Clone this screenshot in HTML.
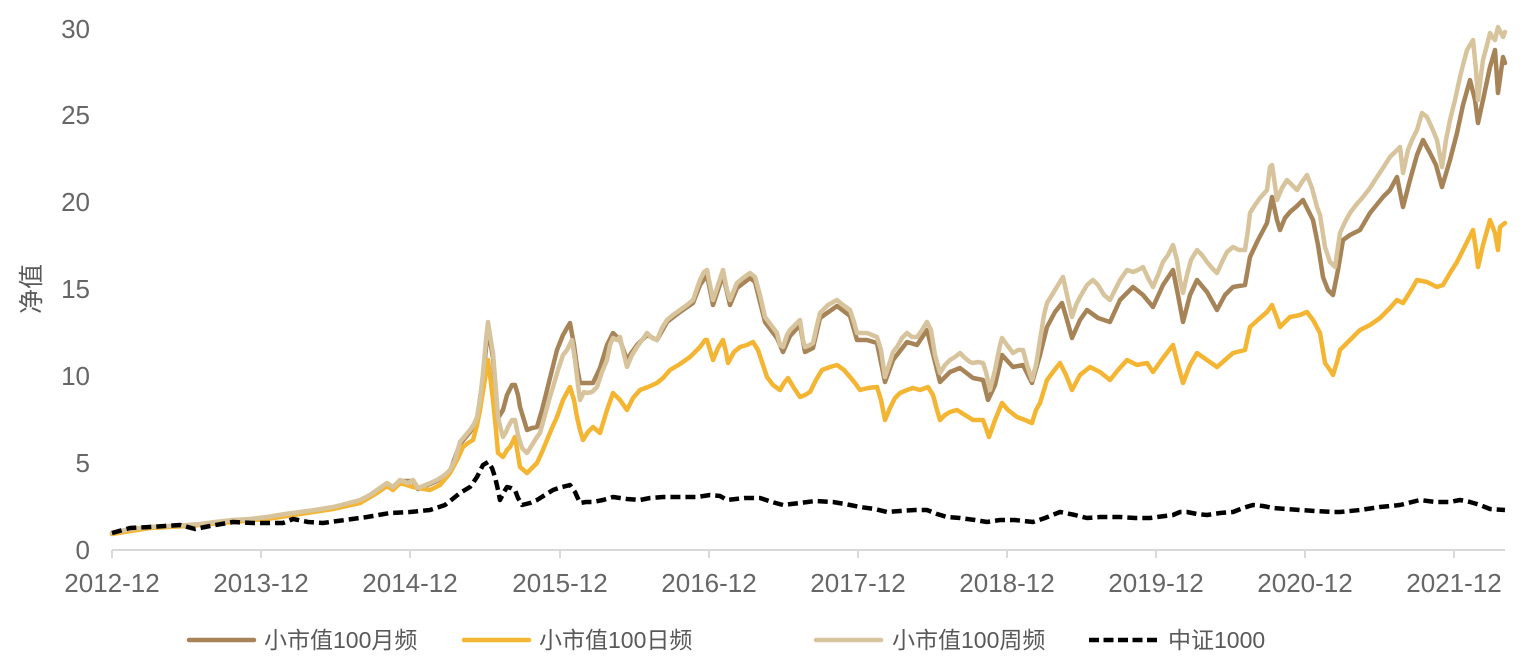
<!DOCTYPE html>
<html><head><meta charset="utf-8">
<style>
html,body{margin:0;padding:0;background:#fff;}
svg{display:block;}
text{font-family:"Liberation Sans","Noto Sans CJK SC",sans-serif;}
</style></head>
<body>
<svg width="1527" height="666" viewBox="0 0 1527 666" xmlns="http://www.w3.org/2000/svg">
<rect width="1527" height="666" fill="#fff"/>
<!-- y tick labels -->
<g fill="#666" font-size="26" text-anchor="end">
<text x="90" y="559">0</text>
<text x="90" y="472">5</text>
<text x="90" y="385">10</text>
<text x="90" y="298">15</text>
<text x="90" y="211">20</text>
<text x="90" y="124">25</text>
<text x="90" y="38">30</text>
</g>
<text transform="translate(40,289) rotate(-90)" fill="#595959" font-size="25" text-anchor="middle">净值</text>
<!-- x axis -->
<line x1="112" y1="550" x2="1505" y2="550" stroke="#d9d9d9" stroke-width="2"/>
<g stroke="#d9d9d9" stroke-width="2">
<line x1="112" y1="550" x2="112" y2="558"/>
<line x1="261" y1="550" x2="261" y2="558"/>
<line x1="410" y1="550" x2="410" y2="558"/>
<line x1="560" y1="550" x2="560" y2="558"/>
<line x1="709" y1="550" x2="709" y2="558"/>
<line x1="858" y1="550" x2="858" y2="558"/>
<line x1="1007" y1="550" x2="1007" y2="558"/>
<line x1="1156" y1="550" x2="1156" y2="558"/>
<line x1="1305" y1="550" x2="1305" y2="558"/>
<line x1="1454" y1="550" x2="1454" y2="558"/>
</g>
<g fill="#666" font-size="26" text-anchor="middle">
<text x="112" y="592">2012-12</text>
<text x="261" y="592">2013-12</text>
<text x="410" y="592">2014-12</text>
<text x="560" y="592">2015-12</text>
<text x="709" y="592">2016-12</text>
<text x="858" y="592">2017-12</text>
<text x="1007" y="592">2018-12</text>
<text x="1156" y="592">2019-12</text>
<text x="1305" y="592">2020-12</text>
<text x="1454" y="592">2021-12</text>
</g>
<g fill="none" stroke-width="4.5" stroke-linejoin="round" stroke-linecap="round">
<!-- brown 月频 -->
<polyline stroke="#A78458" points="112,533 150,527 187,526 233,521 267,518 300,513 333,508 360,501 377,491 387,484 393,488 400,481 413,481 418,489 437,481 450,471 460,444 470,432 477,420 483,378 488,328 493,358 498,418 503,410 507,395 512,385 515,385 518,395 520,407 524,420 527,430 532,428 537,427 542,410 547,390 552,370 557,350 563,335 567,328 570,323 574,345 577,367 580,383 586,383 593,383 600,368 607,345 613,333 620,340 627,360 632,352 637,345 647,335 657,340 667,322 680,312 693,303 700,285 707,275 713,305 723,275 730,305 737,288 750,278 755,282 765,322 777,338 783,352 790,336 800,325 805,352 813,348 820,318 837,306 850,316 857,340 867,340 877,343 885,382 893,360 907,342 917,345 927,330 940,382 950,372 960,368 973,378 983,380 988,400 995,385 1002,355 1013,367 1023,365 1032,383 1040,355 1047,327 1055,312 1062,303 1067,320 1072,338 1080,320 1087,310 1098,318 1110,322 1120,300 1133,287 1143,295 1153,307 1163,285 1173,270 1178,295 1183,322 1190,295 1197,280 1207,292 1217,310 1225,295 1233,287 1245,285 1250,257 1258,240 1267,223 1272,197 1277,220 1280,230 1285,218 1290,212 1297,206 1303,200 1308,210 1313,220 1318,245 1323,277 1328,290 1333,295 1338,270 1343,240 1350,235 1360,230 1370,213 1383,197 1390,190 1397,177 1403,207 1410,180 1417,155 1423,140 1430,153 1436,165 1442,187 1450,160 1457,133 1463,105 1470,80 1475,100 1478,123 1483,100 1490,67 1495,50 1498,93 1503,57 1505,63"/>
<!-- orange 日频 -->
<polyline stroke="#F4B533" points="112,534 150,528 187,526 233,522 267,519 300,514 333,509 360,503 377,493 387,486 393,490 400,483 413,487 430,490 440,485 450,473 457,460 463,447 468,443 473,440 477,425 480,410 484,385 488,360 490,375 493,400 496,430 498,453 503,457 507,450 510,447 515,437 518,455 520,467 527,473 532,468 537,463 542,452 547,440 552,428 557,417 563,400 570,387 574,400 577,417 580,430 583,440 588,432 593,427 600,433 607,410 613,393 620,400 627,410 633,398 640,390 648,387 657,383 663,378 670,370 680,364 690,357 697,350 700,347 705,340 707,340 710,350 713,360 718,348 723,340 726,352 728,363 734,352 740,347 747,345 753,342 758,350 762,362 767,377 773,385 780,390 784,383 788,378 794,388 800,397 805,395 810,392 816,380 822,370 830,367 837,365 844,370 850,377 855,383 860,390 868,388 877,387 881,400 885,420 890,408 895,398 900,393 907,390 913,388 920,390 928,387 933,395 937,410 940,420 945,415 950,412 957,410 965,415 973,420 978,420 983,420 986,428 989,437 995,420 1002,403 1008,410 1017,417 1025,420 1032,423 1036,410 1040,403 1044,390 1047,380 1053,372 1060,363 1066,375 1072,390 1080,375 1090,367 1100,372 1110,380 1118,370 1127,360 1137,365 1147,363 1153,372 1163,358 1173,345 1178,365 1183,383 1190,365 1197,353 1207,360 1217,367 1225,360 1233,353 1245,350 1250,327 1260,318 1267,312 1272,305 1277,318 1280,327 1285,322 1290,317 1300,315 1307,312 1313,320 1320,333 1325,363 1330,370 1333,375 1337,362 1340,350 1350,340 1360,330 1370,325 1380,318 1390,308 1397,300 1403,303 1410,292 1417,280 1427,282 1437,287 1443,285 1450,273 1457,262 1463,250 1468,240 1473,230 1476,250 1478,267 1483,245 1490,220 1495,233 1498,250 1500,227 1505,223"/>
<!-- tan 周频 -->
<polyline stroke="#D8C49C" points="112,533 130,529 150,527 170,526 187,525 200,524 215,522 233,520 250,519 267,517 285,514 300,512 315,510 333,507 345,504 360,500 370,495 377,490 387,483 393,487 400,480 408,483 413,480 418,488 428,484 437,480 445,475 450,470 455,460 460,442 465,436 470,430 474,424 477,417 480,400 483,373 486,340 488,322 490,335 493,353 496,390 498,417 501,430 503,437 506,432 508,427 512,420 515,420 518,435 522,448 527,453 532,445 537,437 540,433 545,415 549,400 553,387 558,370 563,355 567,350 572,340 575,360 578,385 580,400 584,392 587,393 592,392 597,387 602,372 607,360 610,345 613,338 617,340 620,337 624,355 627,367 632,355 637,347 642,340 647,333 652,338 657,340 662,328 667,320 673,315 680,310 687,305 693,300 700,280 704,272 707,270 710,285 713,300 718,285 723,270 727,290 730,300 734,290 737,283 743,278 750,273 755,277 760,295 765,317 771,325 777,333 780,345 783,347 787,335 790,330 795,325 800,320 803,340 805,347 810,345 813,343 817,325 820,313 828,305 837,300 843,305 850,310 854,322 857,333 862,333 867,333 872,335 877,337 881,350 885,377 889,365 893,352 897,347 902,338 907,333 912,337 917,337 922,330 927,322 931,330 935,355 940,373 945,365 950,360 955,357 960,353 965,358 970,362 973,363 978,362 983,363 986,372 990,390 995,370 1000,345 1002,338 1007,345 1013,353 1018,350 1023,350 1027,365 1032,380 1036,365 1040,340 1044,315 1047,303 1052,295 1058,285 1063,277 1067,295 1072,317 1076,305 1080,297 1087,285 1093,280 1098,285 1104,295 1110,300 1115,290 1120,280 1127,270 1133,272 1138,270 1143,267 1148,278 1153,287 1158,275 1163,262 1168,255 1173,245 1177,260 1180,280 1183,293 1187,275 1191,260 1197,250 1202,255 1207,262 1212,268 1217,273 1222,262 1227,252 1233,247 1239,250 1245,250 1248,230 1250,213 1255,205 1260,198 1267,190 1270,167 1272,165 1275,185 1277,200 1282,188 1287,180 1292,185 1297,190 1302,182 1307,175 1312,188 1317,207 1320,215 1325,247 1330,262 1335,267 1340,233 1345,222 1350,213 1356,205 1363,197 1370,188 1377,177 1383,168 1390,157 1395,152 1400,147 1403,173 1408,150 1412,140 1417,130 1422,113 1427,117 1432,128 1437,140 1442,167 1446,140 1450,120 1455,100 1460,77 1463,65 1467,50 1470,45 1473,40 1476,70 1478,100 1481,75 1483,60 1487,45 1490,33 1493,38 1495,40 1498,27 1501,33 1503,37 1505,32"/>
</g>
<!-- black 中证1000 -->
<polyline fill="none" stroke="#000" stroke-width="4.5" stroke-dasharray="10 5" stroke-linejoin="round" points="112,533 130,528 150,527 165,526 180,525 195,529 210,526 233,522 253,523 270,523 283,523 293,519 308,522 323,523 345,520 367,517 390,513 410,512 430,510 445,505 460,493 470,487 477,477 483,465 488,462 492,468 495,477 498,490 500,500 504,492 507,487 511,488 515,490 518,498 522,505 530,503 537,500 545,495 553,490 562,487 570,485 575,492 580,503 586,502 593,502 603,500 613,497 627,499 640,500 650,498 663,497 680,497 697,497 710,495 720,496 727,500 745,498 760,498 772,502 783,505 800,503 815,501 833,502 845,504 860,507 875,509 887,512 900,511 915,510 927,510 937,514 947,517 960,518 975,520 987,522 1000,520 1015,520 1033,522 1045,518 1060,512 1075,515 1087,518 1100,517 1120,517 1135,518 1150,518 1165,516 1173,515 1180,512 1187,512 1197,514 1207,515 1220,513 1233,512 1243,508 1253,505 1263,506 1273,508 1287,509 1300,510 1315,511 1333,512 1340,512 1360,510 1380,507 1400,505 1420,500 1435,502 1450,502 1460,500 1470,502 1480,505 1490,509 1505,510"/>
<!-- legend -->
<g stroke-width="4.5" stroke-linecap="round">
<line x1="189" y1="640" x2="254" y2="640" stroke="#A78458"/>
<line x1="464" y1="640" x2="529" y2="640" stroke="#F4B533"/>
<line x1="816" y1="640" x2="881" y2="640" stroke="#D8C49C"/>
</g>
<line x1="1089" y1="640" x2="1158" y2="640" stroke="#000" stroke-width="4.5" stroke-dasharray="10 4.5"/>
<g fill="#595959" font-size="23">
<text x="264" y="648">小市值100月频</text>
<text x="539" y="648">小市值100日频</text>
<text x="892" y="648">小市值100周频</text>
<text x="1168" y="648">中证1000</text>
</g>
</svg>
</body></html>
